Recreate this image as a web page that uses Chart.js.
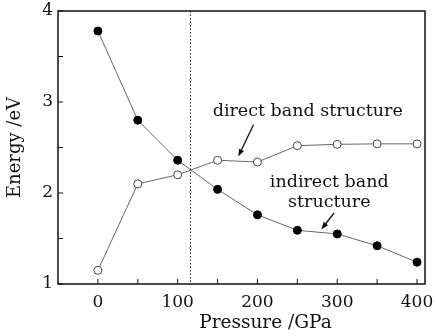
<!DOCTYPE html>
<html><head><meta charset="utf-8">
<script src="https://cdn.jsdelivr.net/npm/chart.js@4"></script>
<style>html,body{margin:0;padding:0;background:#fff}#wrap{width:436px;height:336px}</style>
</head><body><div id="wrap"><canvas id="c" width="436" height="336"></canvas></div>
<script>
const pressure = [0, 50, 100, 150, 200, 250, 300, 350, 400];
const indirectGap = [3.78, 2.80, 2.36, 2.04, 1.76, 1.59, 1.55, 1.42, 1.24];
const directGap = [1.15, 2.10, 2.20, 2.36, 2.34, 2.52, 2.535, 2.54, 2.54];
const xTickValues = [0, 50, 100, 150, 200, 250, 300, 350, 400];
const xTickLabels = ['0', '', '100', '', '200', '', '300', '', '400'];
const yTickValues = [1, 1.5, 2, 2.5, 3, 3.5, 4];
const yTickLabels = ['1', '', '2', '', '3', '', '4'];
const transitionPressure = 115;
const xAxisTitle = 'Pressure /GPa';

const FONT = '"DejaVu Serif", "Liberation Serif", serif';

const decor = {
  id: 'decor',
  afterDraw(chart) {
    const ctx = chart.ctx, a = chart.chartArea, xs = chart.scales.x, ys = chart.scales.y;
    ctx.save();
    ctx.strokeStyle = '#222'; ctx.lineWidth = 1; ctx.setLineDash([1.5, 2]);
    const vx = Math.round(xs.getPixelForValue(transitionPressure)) + 0.5;
    ctx.beginPath(); ctx.moveTo(vx, a.top); ctx.lineTo(vx, a.bottom); ctx.stroke();
    ctx.setLineDash([]);
    ctx.strokeStyle = '#111'; ctx.lineWidth = 1.5;
    ctx.strokeRect(a.left, a.top, a.right - a.left, a.bottom - a.top);
    ctx.lineWidth = 1;
    xTickValues.forEach(v => { const px = xs.getPixelForValue(v); ctx.beginPath(); ctx.moveTo(px, a.bottom); ctx.lineTo(px, a.bottom - 5); ctx.stroke(); });
    yTickValues.forEach(v => { const py = ys.getPixelForValue(v); ctx.beginPath(); ctx.moveTo(a.left, py); ctx.lineTo(a.left + 5, py); ctx.stroke(); });
    ctx.fillStyle = '#111'; ctx.textAlign = 'center'; ctx.textBaseline = 'middle';
    ctx.font = '18.5px ' + FONT;
    ctx.fillText(xAxisTitle, xs.getPixelForValue(210), 323);
    ctx.font = '17.5px ' + FONT;
    ctx.fillText('direct band structure', xs.getPixelForValue(263), ys.getPixelForValue(2.90));
    ctx.fillText('indirect band', xs.getPixelForValue(290), ys.getPixelForValue(2.12));
    ctx.fillText('structure', xs.getPixelForValue(290), ys.getPixelForValue(1.90));
    const arrow = (x1, y1, x2, y2) => {
      const p1 = [xs.getPixelForValue(x1), ys.getPixelForValue(y1)], p2 = [xs.getPixelForValue(x2), ys.getPixelForValue(y2)];
      const ang = Math.atan2(p2[1] - p1[1], p2[0] - p1[0]);
      ctx.lineWidth = 1.3; ctx.strokeStyle = '#111';
      ctx.beginPath(); ctx.moveTo(p1[0], p1[1]); ctx.lineTo(p2[0] - 4 * Math.cos(ang), p2[1] - 4 * Math.sin(ang)); ctx.stroke();
      ctx.beginPath(); ctx.moveTo(p2[0], p2[1]);
      ctx.lineTo(p2[0] - 8 * Math.cos(ang - 0.35), p2[1] - 8 * Math.sin(ang - 0.35));
      ctx.lineTo(p2[0] - 8 * Math.cos(ang + 0.35), p2[1] - 8 * Math.sin(ang + 0.35));
      ctx.closePath(); ctx.fill();
    };
    arrow(195, 2.75, 176, 2.40);
    arrow(296, 1.78, 280, 1.60);
    ctx.restore();
  }
};

new Chart(document.getElementById('c'), {
  type: 'line',
  data: {
    datasets: [
      { label: 'indirect', data: pressure.map((p, i) => ({x: p, y: indirectGap[i]})),
        borderColor: '#666', borderWidth: 1, pointRadius: 4, pointBackgroundColor: '#000', pointBorderColor: '#000', pointBorderWidth: 1, tension: 0 },
      { label: 'direct', data: pressure.map((p, i) => ({x: p, y: directGap[i]})),
        borderColor: '#666', borderWidth: 1, pointRadius: 4, pointBackgroundColor: '#fff', pointBorderColor: '#444', pointBorderWidth: 1, tension: 0 }
    ]
  },
  options: {
    responsive: false, animation: false, devicePixelRatio: 1,
    layout: { padding: { left: 0, right: 11, top: 11, bottom: 0 } },
    plugins: { legend: { display: false }, tooltip: { enabled: false } },
    scales: {
      x: {
        type: 'linear', min: -50, max: 410,
        afterBuildTicks: s => { s.ticks = xTickValues.map(v => ({value: v})); },
        afterFit: s => { s.height = 52; s.paddingLeft = 0; s.paddingRight = 0; },
        ticks: { callback: (v) => { const i = xTickValues.indexOf(v); return i >= 0 ? xTickLabels[i] : ''; },
                 color: '#111', font: { family: FONT, size: 17 }, padding: 8, maxRotation: 0, autoSkip: false },
        grid: { display: false, drawTicks: false }, border: { display: false },
        title: { display: false }
      },
      y: {
        type: 'linear', min: 1, max: 4,
        afterBuildTicks: s => { s.ticks = yTickValues.map(v => ({value: v})); },
        afterFit: s => { s.width = 58; s.paddingTop = 0; s.paddingBottom = 0; },
        ticks: { callback: (v) => { const i = yTickValues.indexOf(v); return i >= 0 ? yTickLabels[i] : ''; },
                 color: '#111', font: { family: FONT, size: 17 }, padding: 5, autoSkip: false },
        grid: { display: false, drawTicks: false }, border: { display: false },
        title: { display: true, text: 'Energy /eV', color: '#111', font: { family: FONT, size: 18 }, padding: { top: 5, bottom: 0 } }
      }
    }
  },
  plugins: [decor]
});
</script></body></html>
